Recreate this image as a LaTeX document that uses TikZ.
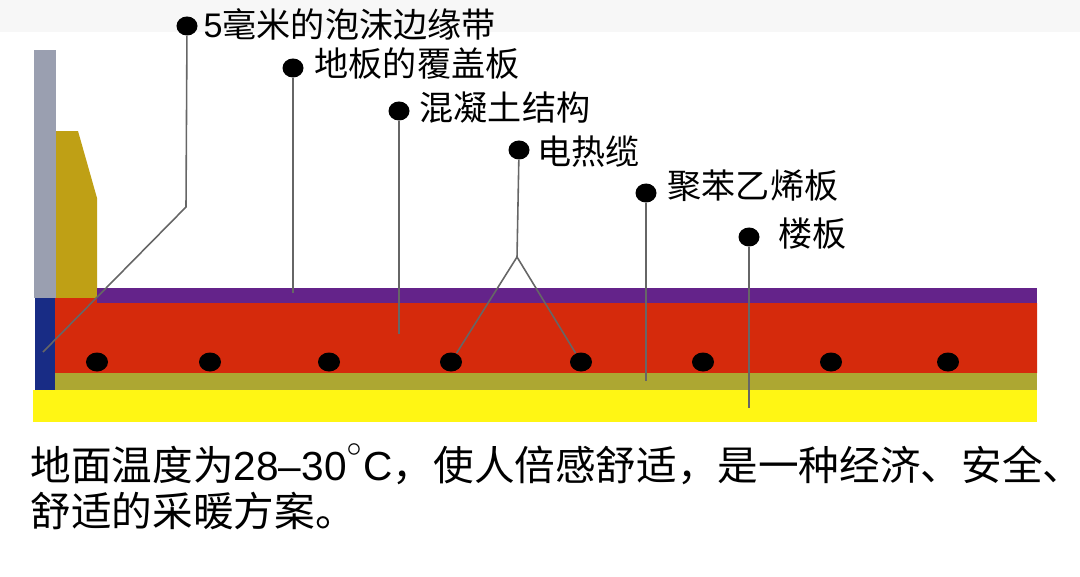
\documentclass[tikz,border=0pt]{standalone}
\usepackage{fontspec}
\setmainfont{Liberation Sans}
\newfontfamily\cjk{Noto Sans CJK SC}
\definecolor{wallgrey}{HTML}{9A9FB0}
\definecolor{wallgold}{HTML}{BFA015}
\definecolor{stripblue}{HTML}{182C85}
\definecolor{coverpurple}{HTML}{64238A}
\definecolor{screedred}{HTML}{D52A0C}
\definecolor{foamolive}{HTML}{ADA732}
\definecolor{slabyellow}{HTML}{FFF614}
\definecolor{leadgrey}{HTML}{666666}
\tikzset{
  layer/.style={fill=#1,draw=none},
  pin/.style={ellipse,fill=black,inner sep=0pt,minimum width=21pt*0.2845,minimum height=19pt*0.2845},
  cable/.style={ellipse,fill=black,inner sep=0pt,minimum width=22pt*0.2845,minimum height=19pt*0.2845},
  lead/.style={draw=leadgrey,line width=0.45pt},
  tag/.style={anchor=west,inner sep=0pt,font=\fontsize{9.7pt}{12pt}\selectfont\cjk},
  note/.style={anchor=west,inner sep=0pt,font=\fontsize{11.55pt}{14pt}\selectfont\cjk}
}
\usetikzlibrary{shapes.geometric}
\begin{document}
\begin{tikzpicture}[x=0.01cm,y=-0.01cm]
  \useasboundingbox (0,0) rectangle (1080,576);
  % draw the light band along the top edge
  \fill[layer=black!3] (0,0) rectangle (1080,32);
  % draw the wall
  \fill[layer=wallgrey] (34,50) rectangle (56,298);
  \fill[layer=wallgold] (56,131) -- (78,131) -- (97,198) -- (97,298) -- (56,298) -- cycle;
  % draw the floor layers
  \fill[layer=screedred] (55,298) -- (97,298) -- (97,303) -- (1037,303) -- (1037,373) -- (55,373) -- cycle;
  \fill[layer=coverpurple] (97,288) rectangle (1037,303);
  \fill[layer=foamolive] (55,373) rectangle (1037,390);
  \fill[layer=slabyellow] (33,390) rectangle (1037,422);
  \fill[layer=stripblue] (35,298) rectangle (55,390);
  % draw the heating cables
  \foreach \cx [count=\ci] in {97,210,329,451,581,703,831,948}
    \node[cable] (cable\ci) at (\cx,362) {};
  % draw the pins with their labels
  \node[pin] (pinstrip) at (187,26) {};
  \node[tag] (tagstrip) at (203,24) {{\fontfamily{\rmdefault}\selectfont 5}毫米的泡沫边缘带};
  \node[pin] (pincover) at (293,68) {};
  \node[tag] (tagcover) at (314,64) {地板的覆盖板};
  \node[pin] (pinscreed) at (399,111) {};
  \node[tag] (tagscreed) at (419,108) {混凝土结构};
  \node[pin] (pincable) at (519,150) {};
  \node[tag] (tagcable) at (537,152) {电热缆};
  \node[pin] (pinfoam) at (646,193) {};
  \node[tag] (tagfoam) at (667,186) {聚苯乙烯板};
  \node[pin] (pinslab) at (749,237) {};
  \node[tag] (tagslab) at (778,234) {楼板};
  % draw the leader lines
  \coordinate (kinkstrip) at (186,207);
  \coordinate (endstrip) at (43,352);
  \coordinate (endcover) at (293,293);
  \coordinate (endscreed) at (399,334);
  \coordinate (forkcable) at (517,257);
  \coordinate (endfoam) at (646,381);
  \coordinate (endslab) at (749,408);
  \draw[lead] (pinstrip) -- (kinkstrip) -- (endstrip);
  \draw[lead] (pincover) -- (endcover);
  \draw[lead] (pinscreed) -- (endscreed);
  \draw[lead] (pincable) -- (forkcable);
  \draw[lead] (forkcable) -- (cable4);
  \draw[lead] (forkcable) -- (cable5);
  \draw[lead] (pinfoam) -- (endfoam);
  \draw[lead] (pinslab) -- (endslab);
  % write the note below the floor
  \node[note] (noteone) at (30,464) {地面温度为{\fontfamily{\rmdefault}\selectfont 28–30\raisebox{2.6pt}{$^{\circ}$}C}，使人倍感舒适，是一种经济、安全、};
  \node[note] (notetwo) at (30,511) {舒适的采暖方案。};
\end{tikzpicture}
\end{document}
